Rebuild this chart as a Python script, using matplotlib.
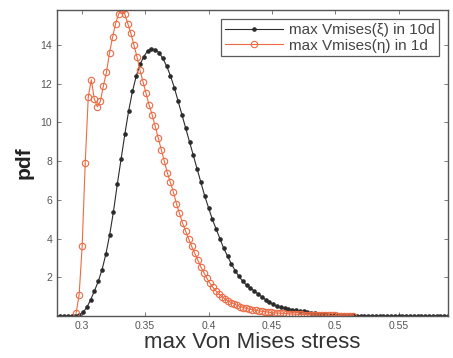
import numpy as np
import matplotlib
matplotlib.use("Agg")
import matplotlib.pyplot as plt

plt.rcParams['font.family'] = ['Liberation Sans', 'DejaVu Sans']

# ---- data ----
xi_start, xi_step = 0.280, 0.003
pdf_xi_10d = [0, 0, 0, 0, 0.01, 0.03, 0.08, 0.2, 0.45, 0.85,
              1.3, 1.8, 2.4, 3.2, 4.2, 5.4, 6.8, 8.1, 9.4, 10.6,
              11.6, 12.4, 13.0, 13.4, 13.7, 13.8, 13.75, 13.6, 13.3, 12.9,
              12.4, 11.8, 11.1, 10.4, 9.7, 9.0, 8.3, 7.6, 6.9, 6.2,
              5.6, 5.0, 4.5, 4.0, 3.5, 3.1, 2.7, 2.35, 2.05, 1.8,
              1.6, 1.45, 1.3, 1.15, 1.0, 0.85, 0.72, 0.62, 0.5, 0.45,
              0.41, 0.37, 0.34, 0.30, 0.27, 0.24, 0.21, 0.18, 0.15, 0.13,
              0.11, 0.09, 0.08, 0.07, 0.06, 0.05, 0.045, 0.04, 0.035, 0.03,
              0.025, 0.015, 0.013, 0.011, 0.01, 0.009, 0.008, 0.007, 0.006, 0.005,
              0.005, 0.004, 0.004, 0.003, 0.003, 0.003, 0.002, 0.002, 0.002, 0.002,
              0.001, 0.001, 0.001, 0.001]

eta_start, eta_step = 0.2955, 0.0024
pdf_eta_1d = [0.15, 1.1, 3.6, 7.9, 11.3, 12.2, 11.2, 10.8, 11.1, 11.9,
              12.6, 13.6, 14.4, 15.1, 15.6, 15.8, 15.6, 15.1, 14.6, 14.0,
              13.4, 12.7, 12.1, 11.5, 10.9, 10.4, 9.8, 9.2, 8.6, 8.0,
              7.4, 6.9, 6.4, 5.8, 5.3, 4.8, 4.4, 4.0, 3.6, 3.25,
              2.9, 2.55, 2.25, 1.95, 1.7, 1.48, 1.3, 1.14, 1.0, 0.88,
              0.78, 0.7, 0.62, 0.55, 0.49, 0.44, 0.40, 0.36, 0.33, 0.30,
              0.27, 0.25, 0.23, 0.21, 0.19, 0.17, 0.16, 0.15, 0.14, 0.13,
              0.12, 0.11, 0.10, 0.09, 0.085, 0.08, 0.075, 0.07, 0.065, 0.06,
              0.055, 0.05, 0.045, 0.04, 0.04, 0.035, 0.03, 0.03, 0.025, 0.02,
              0.02, 0.015]

x_ticks = [0.3, 0.35, 0.4, 0.45, 0.5, 0.55]
x_tick_labels = ['0.3', '0.35', '0.4', '0.45', '0.5', '0.55']
y_ticks = [0, 2, 4, 6, 8, 10, 12, 14]
y_tick_labels = ['', '2', '4', '6', '8', '10', '12', '14']
labels = ['max Vmises(\u03be) in 10d', 'max Vmises(\u03b7) in 1d']

x_xi = xi_start + xi_step * np.arange(len(pdf_xi_10d))
x_eta = eta_start + eta_step * np.arange(len(pdf_eta_1d))

fig = plt.figure(figsize=(4.53, 3.58), dpi=100)
ax = fig.add_axes([0.126, 0.117, 0.863, 0.855])

ax.plot(x_xi, pdf_xi_10d, color='#2b2b2b', lw=0.8, marker='o', ms=2.3,
        mfc='#2b2b2b', mec='#2b2b2b', label=labels[0])
ax.plot(x_eta, pdf_eta_1d, color='#ee6a42', lw=0.8, marker='o', ms=4.6,
        mfc='none', mec='#ee6a42', mew=0.8, label=labels[1])

ax.set_xlim(0.2805, 0.589)
ax.set_ylim(0, 15.8)
ax.set_xticks(x_ticks)
ax.set_xticklabels(x_tick_labels)
ax.set_yticks(y_ticks)
ax.set_yticklabels(y_tick_labels)
ax.tick_params(direction='in', top=True, right=True, labelsize=7.5,
               labelcolor='#555555', color='#666666', length=3, width=0.6)
for s in ax.spines.values():
    s.set_color('#555555')
    s.set_linewidth(1.0)

ax.set_xlabel('max Von Mises stress', fontsize=16, color='#333333', labelpad=1)
ax.set_ylabel('pdf', fontsize=15, fontweight='bold', color='#222222', labelpad=5)

leg = ax.legend(loc='upper right', fontsize=11, frameon=True, fancybox=False,
                edgecolor='#333333', borderaxespad=0.6, handlelength=3.8,
                borderpad=0.25, labelspacing=0.1, handletextpad=0.4,
                numpoints=1)
leg.get_frame().set_linewidth(0.9)
for t in leg.get_texts():
    t.set_color('#444444')

fig.savefig('out.png', dpi=100)
